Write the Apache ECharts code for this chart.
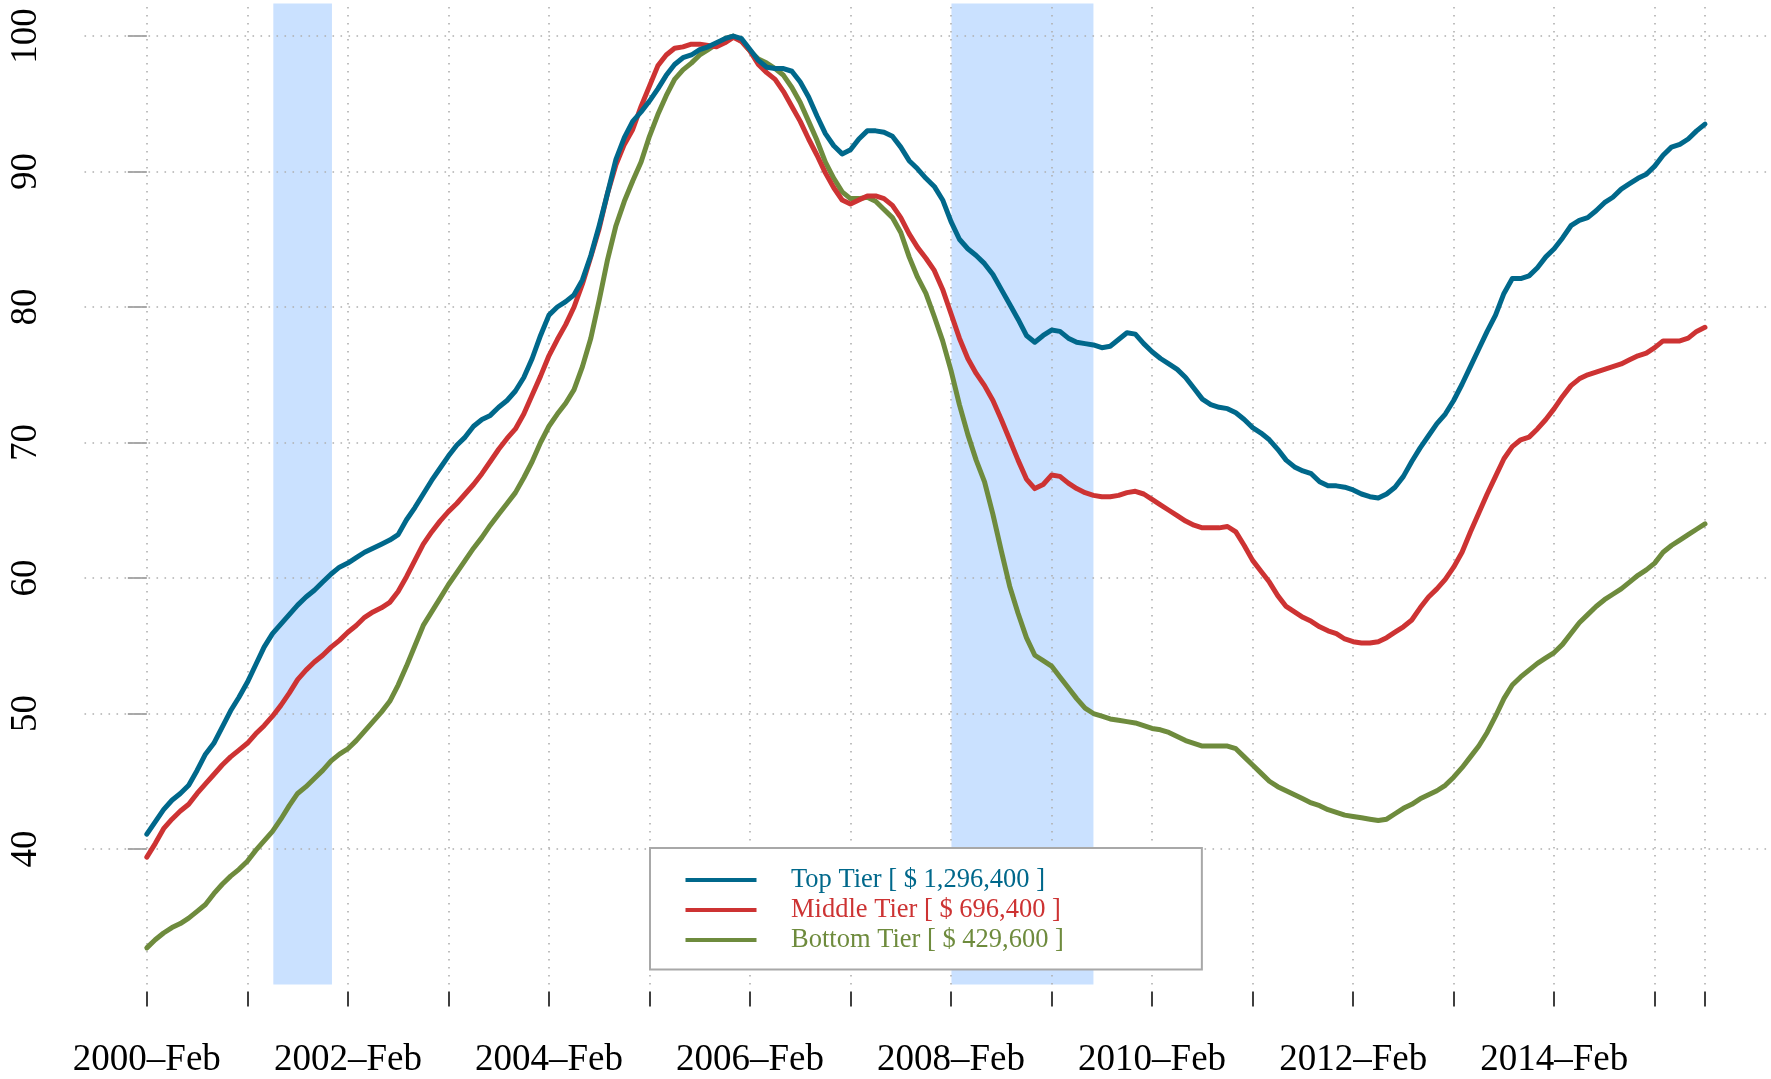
<!DOCTYPE html>
<html><head><meta charset="utf-8">
<script src="https://cdn.jsdelivr.net/npm/echarts@6/dist/echarts.min.js"></script>
<style>html,body{margin:0;padding:0;background:#fff}#c{width:1771px;height:1079px}</style>
</head><body><div id="c"></div>
<script>
// Index values (peak = 100), monthly, 2000-Feb .. 2015-Aug (index 0..186)
const topTier = [
41.1,42.0,42.9,43.6,44.1,44.7,45.8,47.0,47.8,49.0,50.2,51.2,
52.3,53.6,54.9,55.9,56.6,57.3,58.0,58.6,59.1,59.7,60.3,60.8,
61.1,61.5,61.9,62.2,62.5,62.8,63.2,64.3,65.2,66.2,67.2,68.1,
69.0,69.8,70.4,71.2,71.7,72.0,72.6,73.1,73.8,74.8,76.2,77.9,
79.4,80.0,80.4,80.9,82.0,83.8,86.0,88.4,90.9,92.5,93.7,94.4,
95.2,96.1,97.1,97.9,98.4,98.6,99.0,99.2,99.5,99.8,100.0,99.8,
99.0,98.2,97.7,97.6,97.6,97.4,96.6,95.5,94.1,92.8,91.9,91.3,
91.6,92.4,93.0,93.0,92.9,92.6,91.8,90.8,90.2,89.5,88.9,87.9,
86.3,85.0,84.3,83.8,83.2,82.4,81.3,80.2,79.1,77.9,77.4,77.9,
78.3,78.2,77.7,77.4,77.3,77.2,77.0,77.1,77.6,78.1,78.0,77.3,
76.7,76.2,75.8,75.4,74.8,74.0,73.2,72.8,72.6,72.5,72.2,71.7,
71.1,70.7,70.2,69.5,68.7,68.2,67.9,67.7,67.1,66.8,66.8,66.7,
66.5,66.2,66.0,65.9,66.2,66.7,67.5,68.6,69.6,70.5,71.4,72.1,
73.1,74.3,75.6,76.9,78.2,79.4,81.0,82.1,82.1,82.3,82.9,83.7,
84.3,85.1,86.0,86.4,86.6,87.1,87.7,88.1,88.7,89.1,89.5,89.8,
90.4,91.2,91.8,92.0,92.4,93.0,93.5
];
const middleTier = [
39.4,40.4,41.5,42.2,42.8,43.3,44.1,44.8,45.5,46.2,46.8,47.3,
47.8,48.5,49.1,49.8,50.6,51.5,52.5,53.2,53.8,54.3,54.9,55.4,
56.0,56.5,57.1,57.5,57.8,58.2,59.0,60.1,61.3,62.5,63.4,64.2,
64.9,65.5,66.2,66.9,67.7,68.6,69.5,70.3,71.0,72.1,73.5,74.9,
76.4,77.6,78.7,80.0,81.7,83.7,85.8,88.4,90.5,92.0,93.1,94.8,
96.3,97.8,98.6,99.1,99.2,99.4,99.4,99.3,99.2,99.5,99.9,99.6,
98.9,97.9,97.3,96.8,95.9,94.8,93.7,92.4,91.2,89.9,88.8,87.9,
87.6,87.9,88.2,88.2,88.0,87.5,86.6,85.4,84.4,83.6,82.7,81.3,
79.5,77.7,76.2,75.1,74.2,73.1,71.7,70.2,68.7,67.3,66.6,66.9,
67.6,67.5,67.0,66.6,66.3,66.1,66.0,66.0,66.1,66.3,66.4,66.2,
65.8,65.4,65.0,64.6,64.2,63.9,63.7,63.7,63.7,63.8,63.4,62.4,
61.3,60.5,59.7,58.7,57.9,57.5,57.1,56.8,56.4,56.1,55.9,55.5,
55.3,55.2,55.2,55.3,55.6,56.0,56.4,56.9,57.8,58.6,59.2,59.9,
60.8,61.9,63.4,64.8,66.2,67.5,68.8,69.7,70.2,70.4,71.0,71.7,
72.5,73.4,74.2,74.7,75.0,75.2,75.4,75.6,75.8,76.1,76.4,76.6,
77.0,77.5,77.5,77.5,77.7,78.2,78.5
];
const bottomTier = [
32.7,33.3,33.8,34.2,34.5,34.9,35.4,35.9,36.7,37.4,38.0,38.5,
39.1,39.9,40.6,41.3,42.2,43.2,44.1,44.6,45.2,45.8,46.5,47.0,
47.4,48.0,48.7,49.4,50.1,50.9,52.1,53.5,55.0,56.5,57.5,58.5,
59.5,60.4,61.3,62.2,63.0,63.9,64.7,65.5,66.3,67.4,68.6,70.0,
71.2,72.1,72.9,73.9,75.6,77.7,80.5,83.5,86.0,87.8,89.3,90.7,
92.6,94.2,95.6,96.8,97.5,98.0,98.6,99.0,99.4,99.8,100.0,99.6,
98.9,98.3,98.0,97.6,97.1,96.2,95.1,93.7,92.3,90.7,89.5,88.5,
88.0,88.0,88.1,87.8,87.2,86.6,85.5,83.7,82.2,81.0,79.3,77.5,
75.3,72.8,70.6,68.7,67.1,64.7,62.0,59.4,57.4,55.6,54.3,53.9,
53.5,52.7,51.9,51.1,50.4,50.0,49.8,49.6,49.5,49.4,49.3,49.1,
48.9,48.8,48.6,48.3,48.0,47.8,47.6,47.6,47.6,47.6,47.4,46.8,
46.2,45.6,45.0,44.6,44.3,44.0,43.7,43.4,43.2,42.9,42.7,42.5,
42.4,42.3,42.2,42.1,42.2,42.6,43.0,43.3,43.7,44.0,44.3,44.7,
45.3,46.0,46.8,47.6,48.6,49.8,51.1,52.1,52.7,53.2,53.7,54.1,
54.5,55.1,55.9,56.7,57.3,57.9,58.4,58.8,59.2,59.7,60.2,60.6,
61.1,61.9,62.4,62.8,63.2,63.6,64.0
];
const seriesNames = ['Top Tier [ $ 1,296,400 ]', 'Middle Tier [ $ 696,400 ]', 'Bottom Tier [ $ 429,600 ]'];
const seriesColors = ['#00688B', '#CD3333', '#6E8B3D'];
const tickMonths = [0,12,24,36,48,60,72,84,96,108,120,132,144,156,168,180,186];
const labelMonths = [0,24,48,72,96,120,144,168];
const tickLabels = ['2000–Feb','2002–Feb','2004–Feb','2006–Feb','2008–Feb','2010–Feb','2012–Feb','2014–Feb'];
const yTicks = [40,50,60,70,80,90,100];
const recessions = [[15.1, 22.1], [96.05, 113.0]];

const FONT = '"Liberation Serif", "DejaVu Serif", serif';
const toPairs = arr => arr.map((v, i) => [i, v]);

const chart = echarts.init(document.getElementById('c'), null, {renderer: 'canvas'});
const lineSeries = (k, z, extra) => Object.assign({
  name: seriesNames[k], type: 'line', data: toPairs([topTier, middleTier, bottomTier][k]),
  showSymbol: false, symbol: 'none', smooth: false, z: z, silent: true,
  itemStyle: {color: seriesColors[k]},
  lineStyle: {color: seriesColors[k], width: 5, cap: 'round', join: 'round'}
}, extra || {});

chart.setOption({
  animation: false,
  backgroundColor: '#fff',
  grid: {left: 84.5, right: 3.7, top: 3.5, bottom: 90, containLabel: false},
  xAxis: {
    type: 'value', min: -7.44, max: 193.44, offset: 7,
    axisLine: {show: false},
    splitLine: {show: false},
    axisTick: {show: true, length: 15, customValues: tickMonths, lineStyle: {color: '#000', width: 1.5}},
    axisLabel: {
      customValues: labelMonths, margin: 50.5, color: '#000', fontFamily: FONT, fontSize: 37,
      formatter: v => tickLabels[labelMonths.indexOf(Math.round(v))] || ''
    }
  },
  yAxis: {
    type: 'value', min: 30, max: 102.4,
    axisLine: {show: false},
    splitLine: {show: false},
    axisTick: {show: true, length: 19, customValues: yTicks, lineStyle: {color: '#a8a8a8', width: 2}},
    axisLabel: {customValues: yTicks, rotate: 90, margin: 40, color: '#000', fontFamily: FONT, fontSize: 37}
  },
  legend: {
    show: true, orient: 'vertical', left: 650, top: 848, z: 10,
    selectedMode: false,
    data: seriesNames.map((n, k) => ({name: n, icon: 'rect', textStyle: {color: seriesColors[k]}})),
    itemWidth: 71, itemHeight: 4, itemGap: 3,
    padding: [18.5, 138, 16, 35.5],
    backgroundColor: '#fff', borderColor: '#a8a8a8', borderWidth: 2, borderRadius: 0,
    textStyle: {fontFamily: FONT, fontSize: 26.5, lineHeight: 26.5, padding: [0, 0, 0, 29.5]}
  },
  series: [
    lineSeries(0, 5),
    lineSeries(1, 4),
    lineSeries(2, 3, {
      markArea: {
        silent: true, z: 1,
        itemStyle: {color: '#CAE1FF', opacity: 1},
        label: {show: false},
        data: recessions.map(r => [{xAxis: r[0]}, {xAxis: r[1]}])
      },
      markLine: {
        silent: true, z: 1.5, symbol: ['none', 'none'], animation: false,
        label: {show: false},
        lineStyle: {color: '#b0b0b0', width: 1.6, type: [1.6, 6.4]},
        emphasis: {disabled: true},
        data: tickMonths.map(v => ({xAxis: v})).concat(yTicks.map(v => ({yAxis: v})))
      }
    })
  ]
});
</script></body></html>
